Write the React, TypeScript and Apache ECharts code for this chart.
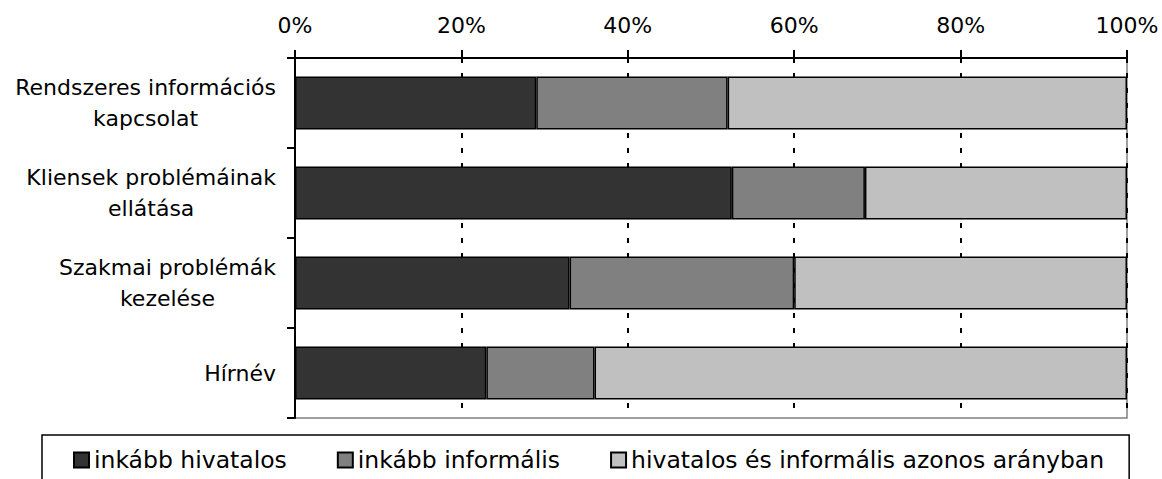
import { useEffect, useRef } from 'react';
import * as echarts from 'echarts';

const categories = [
  'Rendszeres információs\nkapcsolat',
  'Kliensek problémáinak\nellátása',
  'Szakmai problémák\nkezelése',
  'Hírnév',
];
const seriesNames = [
  'inkább hivatalos',
  'inkább informális',
  'hivatalos és informális azonos arányban',
];
const hivatalos = [29, 52.5, 33, 23];
const informalis = [23, 16, 27, 13];
const azonos = [48, 31.5, 40, 64];

const FONT = 'DejaVu Sans';
const FS = 22;
const LFS = 23.5;

export default function App() {
  const ref = useRef<HTMLDivElement>(null);
  useEffect(() => {
    document.body.style.margin = '0';
    const chart = echarts.init(ref.current!, null, { renderer: 'svg' });
    const colors = ['#333333', '#808080', '#c0c0c0'];
    const values = [hivatalos, informalis, azonos];
    chart.setOption({
      animation: false,
      backgroundColor: '#ffffff',
      textStyle: { fontFamily: FONT, color: '#000' },
      grid: {
        left: 295,
        right: 35,
        top: 58,
        bottom: 61,
        show: true,
        borderColor: '#808080',
        borderWidth: 1.5,
        containLabel: false,
      },
      legend: {
        data: seriesNames,
        left: 42,
        top: 435,
        padding: [13, 25, 30, 31],
        itemGap: 50,
        itemWidth: 15,
        itemHeight: 15,
        icon: 'rect',
        borderColor: '#000',
        borderWidth: 1.5,
        textStyle: { fontFamily: FONT, fontSize: LFS, color: '#000' },
      },
      xAxis: {
        type: 'value',
        position: 'top',
        min: 0,
        max: 100,
        interval: 20,
        axisLine: { show: true, lineStyle: { color: '#000', width: 2 } },
        axisTick: { show: true, length: 8, lineStyle: { color: '#000', width: 2 } },
        axisLabel: {
          formatter: '{value}%',
          fontFamily: FONT,
          fontSize: FS,
          color: '#000',
          margin: 22,
        },
        splitLine: {
          show: true,
          lineStyle: { color: '#000', width: 2, type: [5, 10] },
        },
      },
      yAxis: {
        type: 'category',
        data: categories,
        inverse: true,
        axisLine: { show: true, lineStyle: { color: '#000', width: 2 } },
        axisTick: { show: true, length: 8, lineStyle: { color: '#000', width: 2 } },
        axisLabel: {
          margin: 19,
          fontFamily: FONT,
          fontSize: FS,
          color: '#000',
          formatter: (v: string) => v.split('\n').map((l) => `{c|${l}}`).join('\n'),
          rich: {
            c: { align: 'center', fontFamily: FONT, fontSize: FS, color: '#000', lineHeight: 31 },
          },
        },
        splitLine: { show: false },
      },
      series: seriesNames.map((name, i) => ({
        name,
        type: 'bar',
        stack: 'total',
        data: values[i],
        barWidth: 53,
        itemStyle: { color: colors[i], borderColor: '#000', borderWidth: 1.5 },
        emphasis: { disabled: true },
      })),
    });
    return () => chart.dispose();
  }, []);
  return <div ref={ref} style={{ width: 1162, height: 479 }} />;
}
